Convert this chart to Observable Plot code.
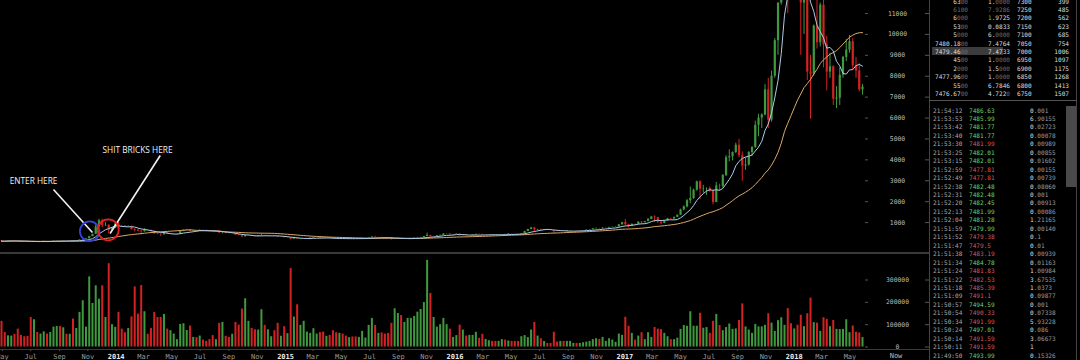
<!DOCTYPE html>
<html><head><meta charset="utf-8">
<script src="https://cdn.jsdelivr.net/npm/d3@7"></script>
<script src="https://cdn.jsdelivr.net/npm/@observablehq/plot@0.6"></script>
<style>
html,body{margin:0;padding:0;background:#000;}
#root{position:relative;width:1080px;height:360px;overflow:hidden;background:#000;font-family:"DejaVu Sans Mono",monospace;}
#root svg{position:absolute;}
.a{position:absolute;white-space:pre;}
.bk{font-size:6.1px;line-height:8.4px;height:8.4px;}
.tr{font-size:6.1px;line-height:8.45px;height:8.45px;}
</style></head><body><div id="root"></div>
<script>
// ---------- weekly BTC/USD candles (week starting Monday) ----------
const firstWeek = "2013-04-29";
const firstOpen = 139;
const close2013 = [112,110,122,131,122,107,99,98,88,77,97,90,95,104,103,106,121,129,119,128,124,133,125,140,165,185,222,330,440,790,1090,850,870,640,730,930];
const high2013  = [146,118,124,133,134,124,110,110,103,90,100,99,97,107,107,108,124,136,130,131,129,134,142,140,170,215,225,345,445,900,1160,1165,1000,900,760,1000];
const low2013   = [98,106,108,120,118,103,96,96,86,65,75,86,88,92,100,97,104,117,115,118,123,122,110,122,138,160,180,220,320,430,760,750,820,450,600,720];
const vol2013   = [115,65,50,49,57,80,52,46,48,132,122,65,58,68,58,65,89,92,92,86,57,57,125,83,155,207,89,314,195,274,214,274,132,373,100,88];

const close2014 = [840,830,800,810,670,630,590,560,640,630,570,470,450,420,500,440,445,448,450,575,630,650,590,595,590,635,630,620,595,585,590,500,510,480,475,477,400,380,330,380,390,355,335,370,385,365,375,376,350,320,322,275];
const high2014  = [1000,870,860,850,830,700,670,620,710,660,640,590,490,460,540,510,460,460,460,580,640,670,660,610,600,650,640,635,625,600,595,595,525,515,490,485,480,440,390,390,400,395,365,375,450,395,385,385,380,355,335,325];
const low2014   = [780,800,780,780,650,550,560,410,550,600,560,440,420,340,400,430,420,430,440,445,565,620,570,570,560,585,615,610,590,575,580,480,460,470,465,465,395,370,280,300,370,350,320,325,360,345,360,365,345,305,315,270];
const vol2014   = [155,80,64,83,135,269,147,275,158,57,83,155,132,132,146,80,73,58,33,101,104,74,94,43,42,49,31,25,33,51,33,106,110,48,43,57,110,98,170,216,115,83,77,76,167,97,77,46,73,106,48,91];

const close2015 = [278,210,255,225,228,235,240,262,285,287,260,248,255,236,222,220,240,238,236,240,225,223,233,245,250,270,310,275,290,280,265,260,230,231,240,230,232,234,238,255,270,285,330,385,330,332,370,390,450,455,420,430];
const high2015  = [300,280,305,265,245,240,250,265,300,298,290,272,260,258,240,240,245,245,244,243,242,230,237,253,253,275,318,312,292,298,285,275,265,238,245,243,235,238,243,258,272,295,335,495,395,340,380,400,470,467,460,440];
const low2015   = [265,170,200,215,210,215,230,232,255,280,255,235,240,233,215,216,218,232,230,233,222,218,220,230,240,248,265,270,272,278,260,255,165,198,225,228,225,226,232,236,250,265,280,328,300,315,320,355,385,440,410,415];
const vol2015   = [60,351,134,189,97,115,67,61,82,58,65,67,48,52,73,64,61,58,49,42,45,45,43,70,40,97,128,97,61,63,58,61,106,171,150,141,110,128,128,137,156,168,199,388,240,132,89,100,128,100,80,43];

const close2016 = [450,380,400,375,376,405,438,432,410,415,416,412,410,420,430,428,455,452,450,442,470,575,670,740,660,670,650,665,655,625,590,570,582,572,606,610,612,602,612,618,640,655,700,705,700,730,735,770,780,790,895,1000];
const high2016  = [455,455,410,400,380,410,445,445,440,420,420,420,425,425,432,450,465,462,460,455,475,585,680,780,775,680,685,675,675,660,630,600,590,590,612,615,615,614,615,620,645,660,720,740,720,755,745,775,785,795,900,1000];
const low2016   = [425,360,365,365,365,370,400,405,400,405,408,405,408,408,418,425,425,440,445,435,438,465,570,660,550,605,620,640,645,620,480,565,565,565,568,600,605,595,600,608,615,630,650,680,690,690,725,725,760,770,785,880];
const vol2016   = [51,98,76,49,52,52,66,39,57,34,28,25,25,25,33,31,27,25,25,25,46,51,42,76,110,49,37,25,16,16,66,22,25,25,25,25,16,16,16,19,22,25,33,37,34,43,25,37,31,21,58,52];

const close2017 = [900,820,920,915,1025,1000,1050,1150,1270,1240,1020,960,1090,1180,1170,1250,1350,1600,1750,2050,2150,2550,2950,2600,2620,2630,2500,1960,2750,2730,3250,4100,4150,4350,4700,4200,3700,3750,4350,4600,5650,6000,6150,7350,5900,8000,9700,11500,15000,19000,13800,13500];
const high2017  = [1150,920,930,925,1035,1060,1060,1200,1280,1320,1250,1070,1100,1200,1210,1260,1360,1640,1800,2100,2700,2600,2980,3000,2780,2660,2700,2550,2920,2840,3300,4200,4480,4380,4800,4980,4380,4100,4400,4620,5850,6180,6200,7600,7900,8250,9800,11500,17000,19700,19200,16000];
const low2017   = [850,750,810,880,910,930,980,1045,1140,1000,960,900,950,1060,1150,1165,1240,1340,1560,1700,1900,2100,2500,2100,2400,2300,2450,1850,1950,2500,2650,3200,3900,3950,4300,4100,2980,3500,3700,4150,4550,5100,5500,6100,5500,5800,7900,9000,11400,14500,11000,12500];
const vol2017   = [133,93,61,31,49,64,33,64,43,87,80,78,61,46,33,33,40,79,96,93,158,93,93,151,84,87,61,115,146,96,73,87,103,79,81,119,193,90,76,61,101,90,90,97,149,107,70,118,131,97,172,104];

const close2018 = [14200,13600,11500,11700,8200,8100,10400,9600,11400,9500,8200,8450,6900,6950,8050,8900,9250,9650,8500,8250,7350,7480];
const high2018  = [17200,15500,14000,12000,11800,9000,10450,11800,11500,11700,9900,9100,8500,7500,8400,8950,9750,9950,9800,8900,8600,7600];
const low2018   = [12800,12600,9000,10000,7800,5950,8000,9300,9400,8400,7300,7900,6600,6450,6600,7900,8700,9100,8300,7900,7250,7100];
const vol2018   = [81,98,142,91,149,219,109,107,70,131,124,91,119,79,78,79,122,64,94,66,63,42];

const priceTicks  = [1000,2000,3000,4000,5000,6000,7000,8000,9000,10000,11000];
const volumeTicks = [0,100000,200000,300000];

// annotations
const noteText  = ["ENTER HERE", "SHIT BRICKS HERE"];
const noteDate  = ["2013-07-07", "2014-02-16"];
const notePrice = [2990, 4450];
const arrowFromDate  = ["2013-08-19", "2014-04-06"];
const arrowFromPrice = [2583, 4209];
const arrowToDate    = ["2013-11-11", "2013-12-19"];
const arrowToPrice   = [526, 478];
const ringDate  = ["2013-11-05", "2013-12-15"];
const ringPrice = [588, 655];
const ringColor = ["#3344d6", "#e42222"];
const ringR     = [9.8, 10.5];

// order book (top right)
const bookAmt   = ["6300","6100","6000","5300","5000","7480.1800","7479.4600","4500","2000","7477.9600","5500","7476.6700"];
const bookQty   = ["1.0000","7.9286","1.9725","0.0833","6.0000","7.4764","7.4733","1.0000","1.5000","1.0000","6.7846","4.7220"];
const bookPrice = ["7300","7250","7200","7150","7100","7050","7000","6950","6900","6850","6800","6750"];
const bookCount = ["399","485","562","623","685","754","1006","1097","1175","1268","1413","1507"];
// trade history
const tradeTime  = ["21:54:12","21:53:53","21:53:42","21:53:40","21:53:30","21:53:25","21:53:15","21:52:59","21:52:49","21:52:38","21:52:31","21:52:20","21:52:13","21:52:04","21:51:59","21:51:52","21:51:47","21:51:38","21:51:34","21:51:24","21:51:22","21:51:18","21:51:09","21:50:57","21:50:54","21:50:34","21:50:24","21:50:14","21:50:11","21:49:50"];
const tradePrice = ["7486.63","7485.99","7481.77","7481.77","7481.99","7482.01","7482.01","7477.81","7477.81","7482.48","7482.48","7482.45","7481.99","7481.28","7479.99","7479.38","7479.5","7483.19","7484.78","7481.83","7482.53","7485.39","7491.1","7494.59","7490.33","7491.99","7497.01","7491.59","7491.59","7493.99"];
const tradeSide  = ["buy","buy","buy","buy","sell","buy","buy","sell","sell","buy","buy","buy","buy","buy","buy","sell","sell","sell","buy","sell","sell","sell","sell","buy","sell","sell","buy","sell","sell","buy"];
const tradeAmt   = ["0.001","6.90155","0.02723","0.00078","0.00989","0.00855","0.01602","0.00155","0.00739","0.08060","0.001","0.00913","0.00086","1.21165","0.00140","0.1","0.01","0.00939","0.01163","1.00984","3.67535","1.0373","0.09877","0.001","0.07338","5.93228","0.086","3.06673","1","0.15326"];

// ---------- build table ----------
const closes = [...close2013, ...close2014, ...close2015, ...close2016, ...close2017, ...close2018];
const highs  = [...high2013, ...high2014, ...high2015, ...high2016, ...high2017, ...high2018];
const lows   = [...low2013, ...low2014, ...low2015, ...low2016, ...low2017, ...low2018];
const vols   = [...vol2013, ...vol2014, ...vol2015, ...vol2016, ...vol2017, ...vol2018];
const start = new Date(firstWeek);
const rows = closes.map((c, i) => {
  const open = i === 0 ? firstOpen : closes[i - 1];
  return {date: d3.utcMonday.offset(start, i), open, close: c, high: highs[i], low: lows[i],
          vol: vols[i] * 1000, dir: c >= open ? "up" : "down"};
});
const notes = noteText.map((t, i) => ({t, date: new Date(noteDate[i]), price: notePrice[i]}));
const arrows = arrowFromDate.map((d, i) => ({d1: new Date(d), p1: arrowFromPrice[i], d2: new Date(arrowToDate[i]), p2: arrowToPrice[i]}));
const rings = ringDate.map((d, i) => ({date: new Date(d), price: ringPrice[i], c: ringColor[i], r: ringR[i]}));

const GREEN = "#3f9a3f", RED = "#d42222";
const xScale = {type: "utc", domain: [new Date("2013-04-29"), new Date("2018-05-28")], range: [1, 862]};
const colorScale = {domain: ["up", "down"], range: [GREEN, RED]};
const baseStyle = {background: "transparent", color: "#bdbdbd", fontFamily: "DejaVu Sans Mono", overflow: "hidden"};
const root = document.getElementById("root");

const pricePlot = Plot.plot({
  width: 929, height: 252, marginLeft: 0, marginRight: 65, marginTop: 0, marginBottom: 0,
  style: baseStyle,
  x: {...xScale, axis: null},
  y: {domain: [0, 11000], range: [243, 13], axis: null},
  color: colorScale,
  marks: [
    Plot.ruleX(rows, {x: "date", y1: "low", y2: "high", stroke: "dir", strokeWidth: 1}),
    Plot.ruleX(rows, {x: "date", y1: "open", y2: "close", stroke: "dir", strokeWidth: 2.2}),
    Plot.lineY(rows, Plot.windowY({k: 30, anchor: "end"}, {x: "date", y: "close", stroke: "#dba86a", strokeWidth: 1})),
    Plot.lineY(rows, Plot.windowY({k: 7, anchor: "end"}, {x: "date", y: "close", stroke: "#aecbe6", strokeWidth: 1})),
    Plot.axisY({anchor: "right", label: null, ticks: priceTicks, tickSize: 3, tickPadding: 30, textAnchor: "middle",
                tickFormat: d => String(d), stroke: "#555", fill: "#bdbdbd", fontSize: 6.4}),
    Plot.axisY({anchor: "right", label: null, ticks: priceTicks, tickSize: 4, dx: 60, tickFormat: () => "", stroke: "#555"}),
    Plot.link(arrows, {x1: "d1", y1: "p1", x2: "d2", y2: "p2", stroke: "#f2f2f2", strokeWidth: 1.6}),
    ...rings.map(g => Plot.dot([g], {x: "date", y: "price", r: g.r, stroke: g.c, strokeWidth: 1.8, fill: "none"})),
    Plot.text(notes, {x: "date", y: "price", text: "t", fill: "#f0f0f0", fontSize: 8.3, fontFamily: "Open Sans"})
  ]
});
pricePlot.style.left = "0px"; pricePlot.style.top = "0px";
root.appendChild(pricePlot);

const monthTicks = d3.utcMonth.every(2).range(new Date("2013-05-01"), new Date("2018-06-01")).filter(d => d.getUTCMonth() !== 0);
const yearTicks  = d3.utcYear.range(new Date("2014-01-01"), new Date("2018-06-01"));

const volPlot = Plot.plot({
  width: 929, height: 107, marginLeft: 0, marginRight: 65, marginTop: 0, marginBottom: 11,
  style: baseStyle,
  x: {...xScale, axis: null},
  y: {domain: [0, 300000], range: [93.5, 26.5], axis: null},
  color: colorScale,
  marks: [
    Plot.ruleX(rows, {x: "date", y1: 0, y2: "vol", stroke: "dir", strokeWidth: 2}),
    Plot.axisY({anchor: "right", label: null, ticks: volumeTicks, tickSize: 3, tickPadding: 30, textAnchor: "middle",
                tickFormat: d => String(d), stroke: "#555", fill: "#bdbdbd", fontSize: 6.4}),
    Plot.axisY({anchor: "right", label: null, ticks: volumeTicks, tickSize: 4, dx: 60, tickFormat: () => "", stroke: "#555"}),
    Plot.axisX({anchor: "bottom", label: null, ticks: monthTicks, tickFormat: d3.utcFormat("%b"), tickSize: 2, tickPadding: 3,
                stroke: "#555", fill: "#9c9c9c", fontSize: 7}),
    Plot.axisX({anchor: "bottom", label: null, ticks: yearTicks, tickFormat: d3.utcFormat("%Y"), tickSize: 2, tickPadding: 3,
                stroke: "#555", fill: "#ececec", fontSize: 7, fontWeight: "bold"})
  ]
});
volPlot.style.left = "0px"; volPlot.style.top = "253px";
root.appendChild(volPlot);

// ---------- frame lines & side panel (HTML text) ----------
function box(l, t, w, h, bg) {
  const d = document.createElement("div");
  d.className = "a";
  Object.assign(d.style, {left: l + "px", top: t + "px", width: w + "px", height: h + "px", background: bg});
  root.appendChild(d);
  return d;
}
function txt(l, t, html, cls, extra) {
  const d = document.createElement("div");
  d.className = "a " + cls;
  d.style.left = l + "px"; d.style.top = t + "px";
  Object.assign(d.style, extra || {});
  d.innerHTML = html;
  root.appendChild(d);
  return d;
}
box(0, 252, 929, 1.5, "#3a3a3a");
box(0, 349, 929, 1, "#3a3a3a");
box(929, 0, 1, 360, "#444");
box(1076, 0, 1, 360, "#444");
box(929, 99.5, 148, 1, "#555");
box(1066, 106, 10, 81, "#4a4a4a");
txt(876, 352, "Now", "", {width: "40px", textAlign: "center", fontSize: "7px", lineHeight: "9px", color: "#bdbdbd"});

function splitZeros(s) {
  const m = s.match(/^(.*?)(0*)$/);
  return [m[1], m[2]];
}
const BRIGHT = "#dcdcdc", DIM = "#6a6a6a";
box(932, 47, 71, 8.4, "#3c3c3c");
bookAmt.forEach((a, i) => {
  const top = -2.5 + 8.4 * i;
  const dimRow = i === 1;
  const [a1, a2] = splitZeros(a);
  txt(929, top, `<span style="color:${dimRow ? DIM : BRIGHT}">${a1}</span><span style="color:${DIM}">${a2}</span>`, "bk", {width: "39px", textAlign: "right"});
  const q = bookQty[i];
  let qHtml;
  if (i === 2) qHtml = `<span style="color:#5fcf5f">${q[0]}</span><span style="color:${BRIGHT}">${q.slice(1)}</span>`;
  else {
    const [q1, q2] = splitZeros(q);
    qHtml = `<span style="color:${dimRow ? DIM : BRIGHT}">${q1}</span><span style="color:${DIM}">${q2}</span>`;
  }
  txt(988, top, qHtml, "bk");
  txt(1017, top, `<span style="color:${BRIGHT}">${bookPrice[i]}</span>`, "bk");
  txt(1040, top, `<span style="color:${BRIGHT}">${bookCount[i]}</span>`, "bk", {width: "29px", textAlign: "right"});
});
tradeTime.forEach((t, i) => {
  const top = 106.5 + 8.45 * i;
  txt(933, top, `<span style="color:#a8a8a8">${t}</span>`, "tr");
  const col = tradeSide[i] === "buy" ? "#6fd06f" : "#d45a5a";
  txt(969, top, `<span style="color:${col}">${tradePrice[i]}</span>`, "tr");
  const a = tradeAmt[i];
  const k = a.indexOf(".");
  const ip = k < 0 ? a : a.slice(0, k), fp = k < 0 ? "" : a.slice(k);
  txt(1030, top, `<span style="color:${BRIGHT}">${ip}</span><span style="color:#9a9a9a">${fp}</span>`, "tr");
});
</script></body></html>
